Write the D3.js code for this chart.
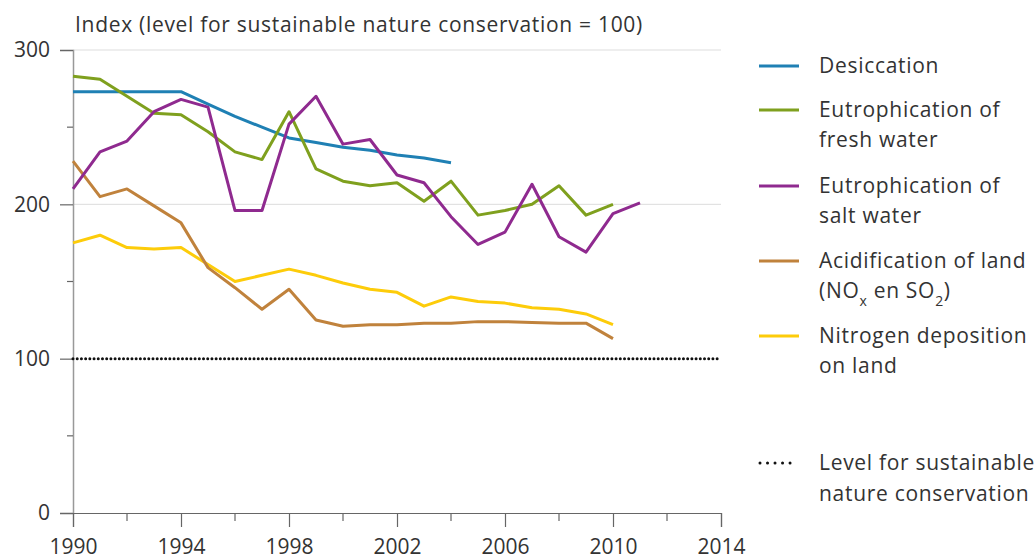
<!DOCTYPE html>
<html><head><meta charset="utf-8">
<script src="https://cdn.jsdelivr.net/npm/d3@7"></script>
<style>
body{margin:0;background:#fff;}
svg text{font-family:"Open Sans", Lato, sans-serif;fill:#333;}
.lbl{letter-spacing:0.7px;}
</style></head>
<body><svg id="c" width="1034" height="560"></svg>
<script>
const years = d3.range(1990, 2012);
const desiccation = [273,273,273,273,273,265,257,250,243,240,237,235,232,230,227];
const freshWater = [283,281,270,259,258,247,234,229,260,223,215,212,214,202,215,193,196,200,212,193,200];
const saltWater = [210,234,241,260,268,263,196,196,252,270,239,242,219,214,192,174,182,213,179,169,194,201];
const acidification = [228,205,210,199,188,159,146,132,145,125,121,122,122,123,123,124,124,123.5,123,123,113];
const nitrogen = [175,180,172,171,172,161,150,154,158,154,149,145,143,134,140,137,136,133,132,129,122];
const sustainableLevel = 100;
const seriesNames = ["Desiccation","Eutrophication of fresh water","Eutrophication of salt water","Acidification of land (NOx en SO2)","Nitrogen deposition on land"];
const seriesColors = ["#1f80b4","#7fa01e","#8f2a8f","#c0823c","#fdcc0a"];
const yTicks = [0,100,200,300];
const yMinor = [50,150,250];
const xLabels = [1990,1994,1998,2002,2006,2010,2014];

const FS = 21;
const svg = d3.select("#c");
const x = d3.scaleLinear().domain([1990,2014]).range([73,721]);
const y = d3.scaleLinear().domain([0,300]).range([513,50]);

// gridlines
svg.append("g").selectAll("line").data([200,300]).join("line")
  .attr("x1",x(1990)).attr("x2",x(2014)).attr("y1",d=>y(d)).attr("y2",d=>y(d))
  .attr("stroke","#ddd").attr("stroke-width",1);

// y axis
const ya = svg.append("g").attr("transform",`translate(${x(1990)},0)`)
  .call(d3.axisLeft(y).tickValues(yTicks).tickSize(13).tickPadding(10).tickFormat(d3.format("d")));
ya.select(".domain").attr("stroke","#999").attr("stroke-width",1.5);
ya.selectAll(".tick line").attr("stroke","#666").attr("stroke-width",1.2);
ya.selectAll("text").attr("font-size",FS).attr("fill","#333").style("font-family","'Open Sans', sans-serif");
svg.append("g").selectAll("line").data(yMinor).join("line")
  .attr("x1",x(1990)-6).attr("x2",x(1990)).attr("y1",d=>y(d)).attr("y2",d=>y(d))
  .attr("stroke","#666").attr("stroke-width",1.2);

// x axis
const xa = svg.append("g").attr("transform",`translate(0,${y(0)})`)
  .call(d3.axisBottom(x).tickValues(xLabels).tickSize(14).tickPadding(12).tickFormat(d3.format("d")));
xa.select(".domain").attr("stroke","#666").attr("stroke-width",1.2);
xa.selectAll(".tick line").attr("stroke","#666").attr("stroke-width",1.2);
xa.selectAll("text").attr("font-size",FS).attr("fill","#333").style("font-family","'Open Sans', sans-serif");
svg.append("g").selectAll("line").data(d3.range(1992,2014,4)).join("line")
  .attr("x1",d=>x(d)).attr("x2",d=>x(d)).attr("y1",y(0)).attr("y2",y(0)+8)
  .attr("stroke","#666").attr("stroke-width",1.2);

// title
svg.append("text").attr("class","lbl").attr("x",75).attr("y",32).attr("font-size",FS).text("Index (level for sustainable nature conservation = 100)");

// dotted level line
svg.append("line").attr("x1",x(1990)).attr("x2",x(2014)).attr("y1",y(sustainableLevel)).attr("y2",y(sustainableLevel))
  .attr("stroke","#111").attr("stroke-width",3).attr("stroke-dasharray","0.01 4.2").attr("stroke-linecap","round");

const allSeries = [desiccation, freshWater, saltWater, acidification, nitrogen];
const line = d3.line().x((d,i)=>x(years[i])).y(d=>y(d));
const drawOrder = [4,3,0,1,2];
drawOrder.forEach(k=>{
  svg.append("path").datum(allSeries[k]).attr("d",line)
    .attr("fill","none").attr("stroke",seriesColors[k]).attr("stroke-width",3)
    .attr("stroke-linejoin","round");
});

// legend
const legend = svg.append("g");
const legendItems = [
  {lines:["Desiccation"], y:66, c:0},
  {lines:["Eutrophication of","fresh water"], y:110, c:1},
  {lines:["Eutrophication of","salt water"], y:186, c:2},
  {lines:["Acidification of land", null], y:261, c:3},
  {lines:["Nitrogen deposition","on land"], y:336, c:4}
];
legendItems.forEach(it=>{
  legend.append("line").attr("x1",759).attr("x2",799).attr("y1",it.y).attr("y2",it.y)
    .attr("stroke",seriesColors[it.c]).attr("stroke-width",3);
  it.lines.forEach((t,j)=>{
    const ty = it.y + j*30 + 7;
    if(t===null){
      const tx = legend.append("text").attr("class","lbl").attr("x",819).attr("y",ty).attr("font-size",FS);
      tx.append("tspan").text("(NO");
      tx.append("tspan").attr("font-size",14).attr("dy",8).text("x");
      tx.append("tspan").attr("dy",-8).text(" en SO");
      tx.append("tspan").attr("font-size",14).attr("dy",8).text("2");
      tx.append("tspan").attr("dy",-8).text(")");
    } else {
      legend.append("text").attr("class","lbl").attr("x",819).attr("y",ty).attr("font-size",FS).text(t);
    }
  });
});
legend.append("line").attr("x1",760).attr("x2",793).attr("y1",463).attr("y2",463)
  .attr("stroke","#111").attr("stroke-width",3).attr("stroke-dasharray","0.01 7.5").attr("stroke-linecap","round");
legend.append("text").attr("class","lbl").attr("x",819).attr("y",470).attr("font-size",FS).text("Level for sustainable");
legend.append("text").attr("class","lbl").attr("x",819).attr("y",501).attr("font-size",FS).text("nature conservation");
</script></body></html>
